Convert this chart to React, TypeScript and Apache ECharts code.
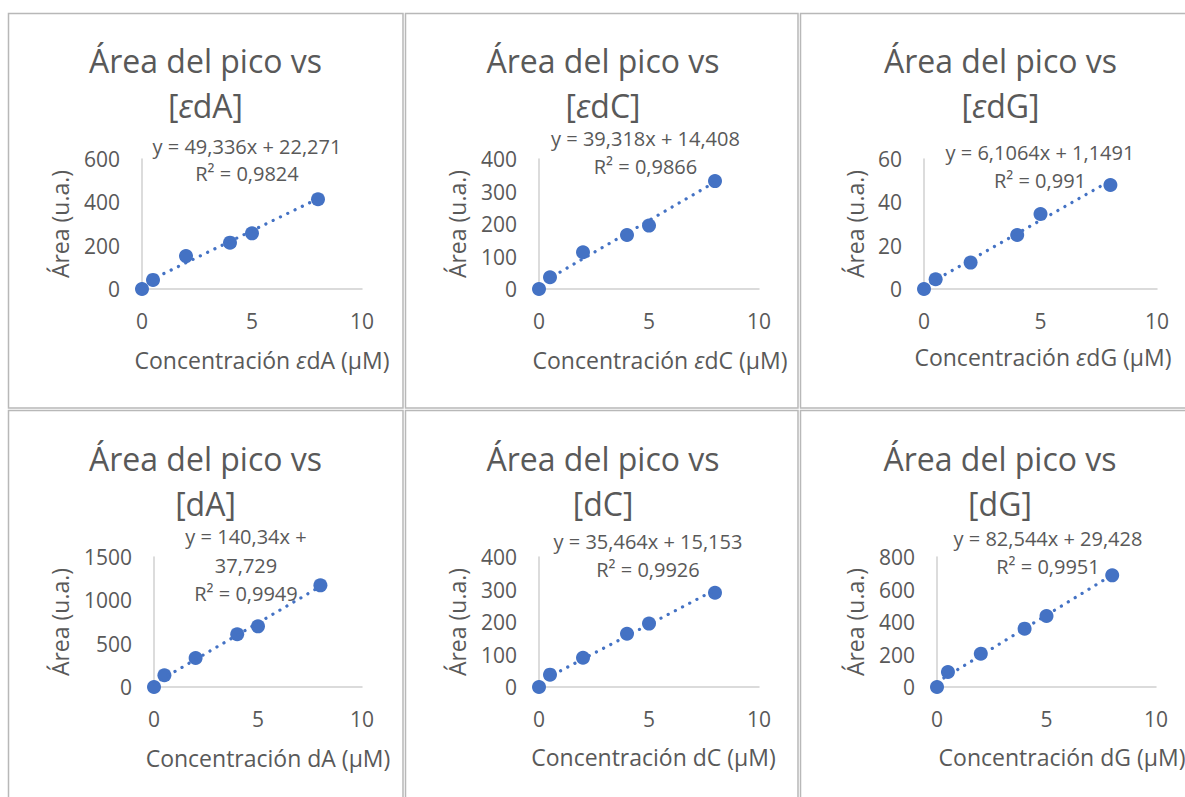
import React, { useEffect, useRef } from "react";
import * as echarts from "echarts";

// ---- data ----
const concentrations = [0, 0.5, 2, 4, 5, 8];
const areaEdA = [0, 42, 152, 214, 257, 414];
const areaEdC = [0, 36, 113, 166, 195, 332];
const areaEdG = [0, 4.5, 12.2, 24.9, 34.6, 48];
const areaDA = [0, 135, 335, 608, 700, 1173];
const areaDC = [0, 38, 90, 164, 195, 290];
const areaDG = [0, 92, 205, 359, 437, 687];

const nucleosides = ["εdA", "εdC", "εdG", "dA", "dC", "dG"];
const slopes = [49.336, 39.318, 6.1064, 140.34, 35.464, 82.544];
const intercepts = [22.271, 14.408, 1.1491, 37.729, 15.153, 29.428];
const equationLines = [
  ["y = 49,336x + 22,271", "R² = 0,9824"],
  ["y = 39,318x + 14,408", "R² = 0,9866"],
  ["y = 6,1064x + 1,1491", "R² = 0,991"],
  ["y = 140,34x +", "37,729", "R² = 0,9949"],
  ["y = 35,464x + 15,153", "R² = 0,9926"],
  ["y = 82,544x + 29,428", "R² = 0,9951"],
];
const yMaxes = [600, 400, 60, 1500, 400, 800];
const yIntervals = [200, 100, 20, 500, 100, 200];
const xMin = 0;
const xMax = 10;
const xInterval = 5;
const trendXStart = 0;
const trendXEnd = 8;

const allAreas = [areaEdA, areaEdC, areaEdG, areaDA, areaDC, areaDG];

// ---- layout ----
const layout = [
  { cell: [8.5, 13.5, 394.5, 394.5], grid: [142, 159, 220, 130], titleX: 205.5, titleY: 60, eqX: 247, eqY: [146, 173], yNameX: 60, yNameY: 224, xNameX: 262, xNameY: 360 },
  { cell: [405.5, 13.5, 392.5, 394.5], grid: [539, 159, 220, 130], titleX: 603, titleY: 60, eqX: 645.5, eqY: [138, 166], yNameX: 457, yNameY: 224, xNameX: 660, xNameY: 360 },
  { cell: [800.5, 13.5, 394.5, 394.5], grid: [924, 159, 233, 130], titleX: 1000.5, titleY: 60, eqX: 1040, eqY: [152, 180], yNameX: 855, yNameY: 224, xNameX: 1043, xNameY: 357 },
  { cell: [8.5, 410.5, 394.5, 400], grid: [154, 557, 208, 130], titleX: 205.5, titleY: 458, eqX: 246, eqY: [536, 565, 593], yNameX: 60, yNameY: 622, xNameX: 268, xNameY: 758 },
  { cell: [405.5, 410.5, 392.5, 400], grid: [539, 557, 220, 130], titleX: 603, titleY: 458, eqX: 648, eqY: [541, 569], yNameX: 457, yNameY: 622, xNameX: 653.5, xNameY: 757 },
  { cell: [800.5, 410.5, 394.5, 400], grid: [937, 557, 219, 130], titleX: 1000, titleY: 458, eqX: 1048, eqY: [538, 566], yNameX: 855, yNameY: 622, xNameX: 1062, xNameY: 757 },
];

const FONT = "'Open Sans', 'Noto Sans', sans-serif";
const TEXT = "#595959";
const BLUE = "#4472C4";
const AXIS = "#D0D0D0";

function richNuc(nuc: string) {
  return nuc.startsWith("ε") ? "{e|ε}" + nuc.slice(1) : nuc;
}
function richStyle(size: number) {
  return { e: { fontStyle: "italic", fontSize: size, fontFamily: FONT, fill: TEXT } };
}

function buildOption() {
  const grid: any[] = [];
  const xAxis: any[] = [];
  const yAxis: any[] = [];
  const series: any[] = [];
  const graphic: any[] = [];

  layout.forEach((L, i) => {
    const [gl, gt, gw, gh] = L.grid;
    grid.push({ left: gl, top: gt, width: gw, height: gh, containLabel: false });
    xAxis.push({
      type: "value",
      gridIndex: i,
      min: xMin,
      max: xMax,
      interval: xInterval,
      axisLine: { show: true, onZero: false, lineStyle: { color: AXIS, width: 1.5 } },
      axisTick: { show: false },
      splitLine: { show: false },
      axisLabel: { color: TEXT, fontSize: 21, fontFamily: FONT, margin: 21, formatter: (v: number) => String(v) },
    });
    yAxis.push({
      type: "value",
      gridIndex: i,
      min: 0,
      max: yMaxes[i],
      interval: yIntervals[i],
      axisLine: { show: true, lineStyle: { color: AXIS, width: 1.5 } },
      axisTick: { show: false },
      splitLine: { show: false },
      axisLabel: { color: TEXT, fontSize: 21, fontFamily: FONT, margin: 22, formatter: (v: number) => String(v) },
    });
    series.push({
      type: "scatter",
      xAxisIndex: i,
      yAxisIndex: i,
      data: concentrations.map((x, j) => [x, allAreas[i][j]]),
      symbolSize: 14,
      itemStyle: { color: BLUE, opacity: 1 },
      z: 2,
      silent: true,
    });
    series.push({
      type: "line",
      xAxisIndex: i,
      yAxisIndex: i,
      data: [
        [trendXStart, intercepts[i] + slopes[i] * trendXStart],
        [trendXEnd, intercepts[i] + slopes[i] * trendXEnd],
      ],
      symbol: "none",
      lineStyle: { color: BLUE, width: 3.2, type: [0.1, 8], cap: "round", opacity: 1 },
      z: 3,
      silent: true,
    });

    // cell border
    const [cx, cy, cw, ch] = L.cell;
    graphic.push({
      type: "rect",
      shape: { x: cx, y: cy, width: cw, height: ch },
      style: { fill: "none", stroke: "#B8B8B8", lineWidth: 1.5 },
      silent: true,
    });
    // titles
    graphic.push({
      type: "text",
      x: L.titleX,
      y: L.titleY,
      style: { text: "Área del pico vs", fill: TEXT, fontSize: 32, fontFamily: FONT, align: "center", verticalAlign: "middle" },
    });
    graphic.push({
      type: "text",
      x: L.titleX,
      y: L.titleY + 45,
      style: { text: "[" + richNuc(nucleosides[i]) + "]", fill: TEXT, fontSize: 32, fontFamily: FONT, align: "center", verticalAlign: "middle", rich: richStyle(32) },
    });
    // equation
    equationLines[i].forEach((t, k) => {
      graphic.push({
        type: "text",
        x: L.eqX,
        y: L.eqY[k],
        style: { text: t, fill: TEXT, fontSize: 20, fontFamily: FONT, align: "center", verticalAlign: "middle" },
        z: 10,
      });
    });
    // axis names
    graphic.push({
      type: "text",
      x: L.xNameX,
      y: L.xNameY,
      style: { text: "Concentración " + richNuc(nucleosides[i]) + " (µM)", fill: TEXT, fontSize: 23, fontFamily: FONT, align: "center", verticalAlign: "middle", rich: richStyle(23) },
    });
    graphic.push({
      type: "text",
      x: L.yNameX,
      y: L.yNameY,
      rotation: Math.PI / 2,
      style: { text: "Área (u.a.)", fill: TEXT, fontSize: 23, fontFamily: FONT, align: "center", verticalAlign: "middle" },
    });
  });

  return {
    animation: false,
    backgroundColor: "#ffffff",
    grid,
    xAxis,
    yAxis,
    series,
    graphic,
  };
}

export default function App() {
  const ref = useRef<HTMLDivElement>(null);
  useEffect(() => {
    if (!ref.current) return;
    const chart = echarts.init(ref.current, undefined, { renderer: "svg" });
    chart.setOption(buildOption() as any);
    return () => chart.dispose();
  }, []);
  return (
    <div
      ref={ref}
      style={{ position: "fixed", left: 0, top: 0, width: 1185, height: 797, background: "#fff" }}
    />
  );
}
